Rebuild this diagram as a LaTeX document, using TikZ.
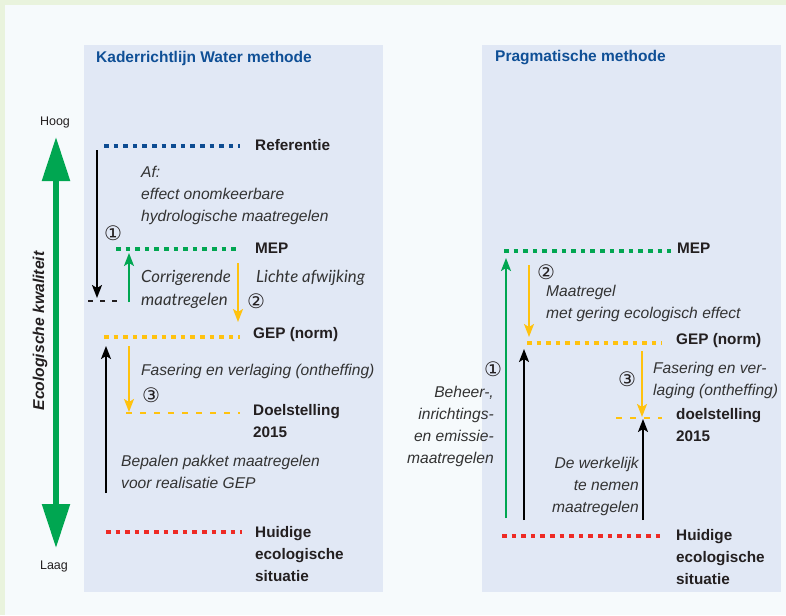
\documentclass[tikz,border=0pt]{standalone}
\usepackage{fontspec}
\setmainfont{Liberation Sans}
\newfontfamily\gillfont{Lato}
\newfontfamily\circfont{DejaVu Sans}
\usepackage{xcolor}
\usepackage{tikz}
\usetikzlibrary{arrows.meta}

\definecolor{bordergreen}{HTML}{E9F3DD}
\definecolor{pagebg}{HTML}{F6FAFC}
\definecolor{panelblue}{HTML}{E1E8F5}
\definecolor{titleblue}{HTML}{0F4F96}
\definecolor{refblue}{HTML}{0D4C92}
\definecolor{kwgreen}{HTML}{00A651}
\definecolor{gepyellow}{HTML}{FFC20E}
\definecolor{nowred}{HTML}{EE2A24}
\definecolor{darktext}{HTML}{231F20}
\definecolor{notetext}{HTML}{333333}

\begin{document}
\begin{tikzpicture}[x=1pt, y=-1pt,
    level/.style={line width=4.6pt, dash pattern=on 4.6pt off 5pt},
    goal/.style={line width=2.6pt, dash pattern=on 6pt off 8pt},
    title/.style={anchor=west, inner sep=0pt, text=titleblue, font=\bfseries\fontsize{15.5}{18}\selectfont},
    lbl/.style={anchor=west, align=left, inner sep=0pt, text=darktext, font=\bfseries\fontsize{15.3}{22}\selectfont},
    note/.style={anchor=west, align=left, inner sep=0pt, text=notetext, font=\itshape\fontsize{15.6}{22}\selectfont},
    gnote/.style={note, font=\gillfont\itshape\fontsize{16.8}{23}\selectfont},
    num/.style={inner sep=0pt, text=darktext, font=\circfont\fontsize{20}{20}\selectfont},
    arrow/.style={-{Stealth[length=13pt, width=10pt, inset=3pt]}, line width=1.9pt}
]
\useasboundingbox (0,0) rectangle (786,615);

% background and panels
\fill[bordergreen] (0,0) rectangle (786,615);
\fill[pagebg] (5,5) rectangle (786,615);
\fill[panelblue] (84,45) rectangle (383,592);
\fill[panelblue] (482,45) rectangle (781,592);

\node[title] (kaderTitle) at (96,58) {Kaderrichtlijn Water methode};
\node[title] (pragTitle) at (495,58) {Pragmatische methode};

% quality axis
\node[text=darktext, font=\fontsize{12.5}{14}\selectfont] (hoog) at (55,122) {Hoog};
\node[text=darktext, font=\fontsize{12.5}{14}\selectfont] (laag) at (54,566) {Laag};
\coordinate (axisTop) at (56,137);
\coordinate (axisBot) at (56,548);
\draw[kwgreen, line width=5.5pt, {Triangle[length=44pt, width=27pt]}-{Triangle[length=44pt, width=27pt]}] (axisBot) -- (axisTop);
\node[rotate=90, text=darktext, font=\bfseries\itshape\fontsize{15.7}{18}\selectfont] (axisLabel) at (40,331) {Ecologische kwaliteit};

% Kaderrichtlijn Water methode
\coordinate (kRefA) at (104,146);
\coordinate (kRefB) at (240,146);
\draw[level, refblue] (kRefA) -- (kRefB);
\node[lbl] (kRef) at (255,145) {Referentie};

\coordinate (kMepA) at (116,249);
\coordinate (kMepB) at (240,249);
\draw[level, kwgreen] (kMepA) -- (kMepB);
\node[lbl] (kMep) at (255,248) {MEP};

\coordinate (kGepA) at (104,337);
\coordinate (kGepB) at (240,337);
\draw[level, gepyellow] (kGepA) -- (kGepB);
\node[lbl] (kGep) at (253,335) {GEP (norm)};

\coordinate (kDoelA) at (126,413);
\coordinate (kDoelB) at (240,413);
\draw[goal, gepyellow] (kDoelA) -- (kDoelB);
\node[lbl] (kDoel) at (253,421) {Doelstelling\\2015};

\coordinate (kNowA) at (106,532);
\coordinate (kNowB) at (242,532);
\draw[level, nowred] (kNowA) -- (kNowB);
\node[lbl] (kNow) at (255,554) {Huidige\\ecologische\\situatie};

\coordinate (kDashA) at (88,301);
\coordinate (kDashB) at (121,301);
\draw[darktext, line width=2pt, dash pattern=on 5pt off 7pt] (kDashA) -- (kDashB);

\coordinate (kAfTop) at (97,150);
\coordinate (kAfBot) at (97,298);
\draw[arrow, black] (kAfTop) -- (kAfBot);
\node[note] (kAf) at (141,195) {Af:\\effect onomkeerbare\\hydrologische maatregelen};
\node[num] (kOne) at (113,233) {①};

\coordinate (kCorBot) at (129,302);
\coordinate (kCorTop) at (129,253);
\draw[arrow, kwgreen] (kCorBot) -- (kCorTop);
\node[gnote] (kCor) at (141,289) {Corrigerende\\maatregelen};

\coordinate (kLichtTop) at (238,263);
\coordinate (kLichtBot) at (238,322);
\draw[arrow, gepyellow] (kLichtTop) -- (kLichtBot);
\node[gnote] (kLicht) at (256,278) {Lichte afwijking};
\node[num] (kTwo) at (256,301) {②};

\coordinate (kBepBot) at (106,493);
\coordinate (kBepTop) at (106,346);
\draw[arrow, black] (kBepBot) -- (kBepTop);
\node[note] (kBep) at (121,472) {Bepalen pakket maatregelen\\voor realisatie GEP};

\coordinate (kFasTop) at (129,346);
\coordinate (kFasBot) at (129,412);
\draw[arrow, gepyellow] (kFasTop) -- (kFasBot);
\node[note] (kFas) at (141,371) {Fasering en verlaging (ontheffing)};
\node[num] (kThree) at (151,395) {③};

% Pragmatische methode
\coordinate (pMepA) at (504,251);
\coordinate (pMepB) at (671,251);
\draw[level, kwgreen] (pMepA) -- (pMepB);
\node[lbl] (pMep) at (677,248) {MEP};

\coordinate (pGepA) at (527,343);
\coordinate (pGepB) at (662,343);
\draw[level, gepyellow] (pGepA) -- (pGepB);
\node[lbl] (pGep) at (676,341) {GEP (norm)};

\coordinate (pDoelA) at (616,418);
\coordinate (pDoelB) at (662,418);
\draw[goal, gepyellow] (pDoelA) -- (pDoelB);
\node[lbl] (pDoel) at (676,425) {doelstelling\\2015};

\coordinate (pNowA) at (502,536);
\coordinate (pNowB) at (660,536);
\draw[level, nowred] (pNowA) -- (pNowB);
\node[lbl] (pNow) at (676,557) {Huidige\\ecologische\\situatie};

\coordinate (pBehBot) at (506,518);
\coordinate (pBehTop) at (506,258);
\draw[arrow, kwgreen] (pBehBot) -- (pBehTop);
\node[num] (pOne) at (493,369) {①};
\node[note, anchor=east, align=right] (pBeh) at (494,426) {Beheer-,\\inrichtings-\\en emissie-\\maatregelen};

\coordinate (pMaatTop) at (529,265);
\coordinate (pMaatBot) at (529,337);
\draw[arrow, gepyellow] (pMaatTop) -- (pMaatBot);
\node[num] (pTwo) at (546,272) {②};
\node[note] (pMaat) at (546,303.5) {Maatregel\\met gering ecologisch effect};

\coordinate (pGepBot) at (524,520);
\coordinate (pGepTop) at (524,349);
\draw[arrow, black] (pGepBot) -- (pGepTop);

\coordinate (pFasTop) at (642,351);
\coordinate (pFasBot) at (642,417);
\draw[arrow, gepyellow] (pFasTop) -- (pFasBot);
\node[num] (pThree) at (627,379) {③};
\node[note] (pFas) at (653,380) {Fasering en ver-\\laging (ontheffing)};

\coordinate (pWerkBot) at (643,520);
\coordinate (pWerkTop) at (643,419);
\draw[arrow, black] (pWerkBot) -- (pWerkTop);
\node[note, anchor=east, align=right] (pWerk) at (639,486) {De werkelijk\\te nemen\\maatregelen};

\end{tikzpicture}
\end{document}
